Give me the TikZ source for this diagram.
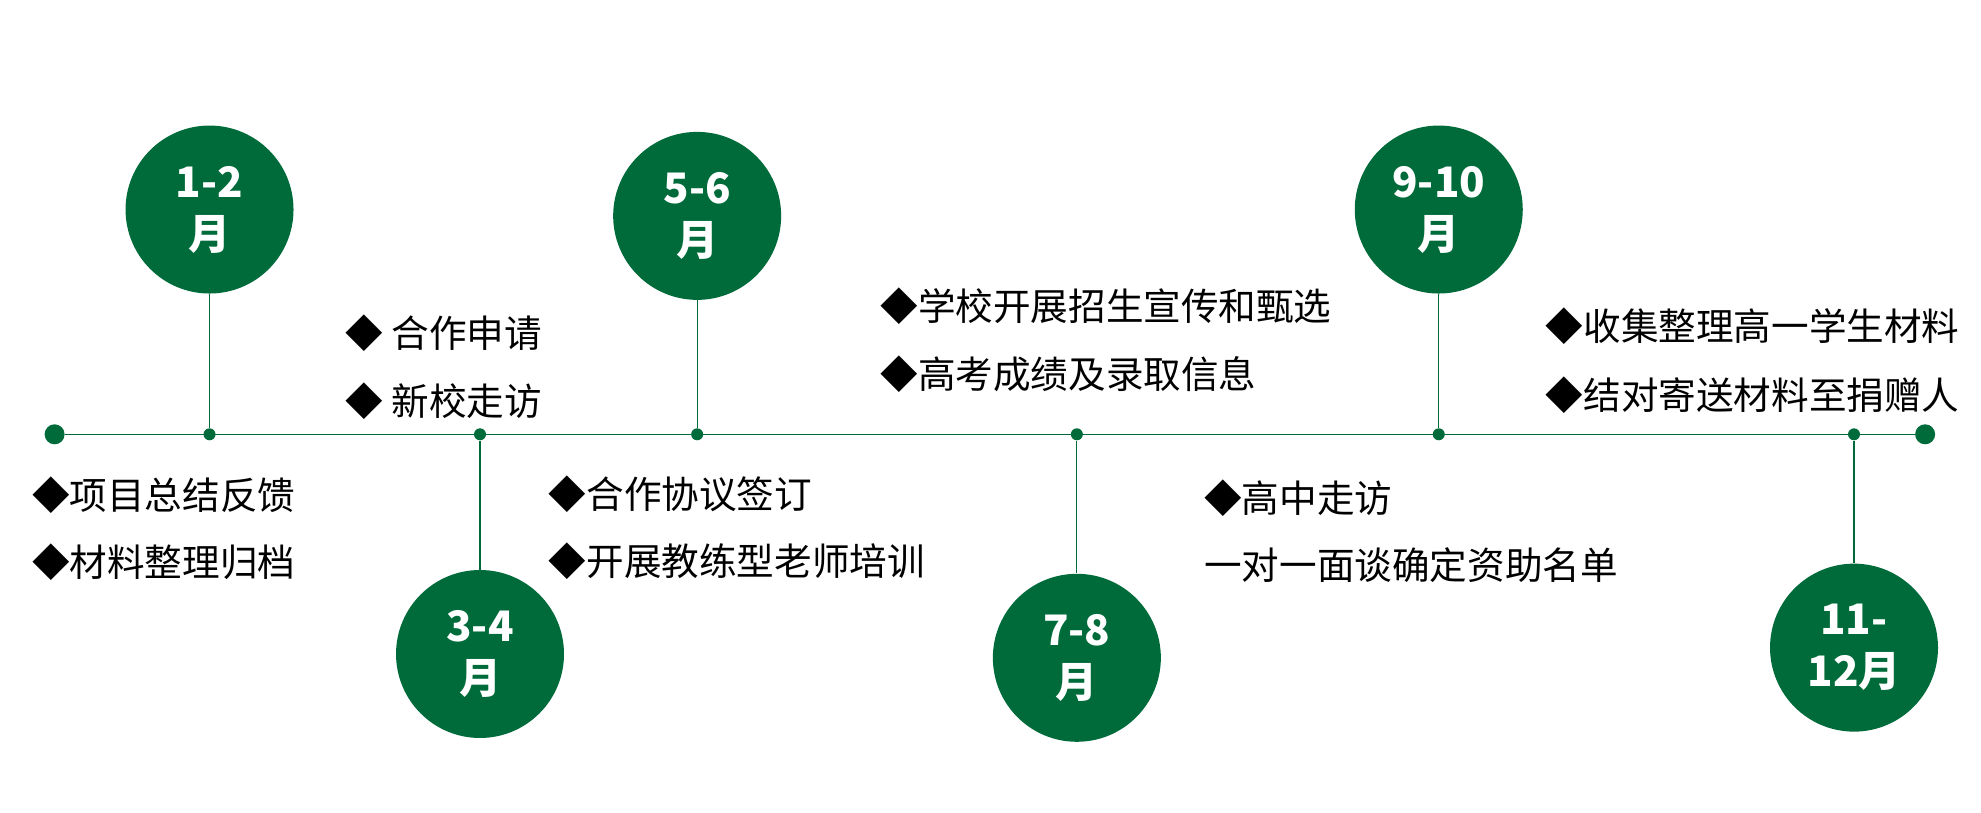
\documentclass[tikz,border=0pt]{standalone}
\usepackage{fontspec}
\setmainfont{Noto Sans CJK SC}
\definecolor{dg}{HTML}{006B3A}
\begin{document}
\begin{tikzpicture}[x=0.635pt,y=-0.635pt,
  mon/.style={circle,fill=dg,minimum size=84pt,inner sep=0pt,text=white,font=\fontsize{21}{26}\selectfont\bfseries,align=center},
  bigdot/.style={circle,fill=dg,minimum size=10pt,inner sep=0pt},
  smalldot/.style={circle,fill=dg,minimum size=6pt,inner sep=0pt},
  ln/.style={draw=dg,line width=0.6pt},
  txt/.style={anchor=west,font=\fontsize{18.8}{22}\selectfont,inner sep=0pt}]
\useasboundingbox (0,0) rectangle (1560,640);
\node[bigdot] (L) at (43,342) {};
\node[bigdot] (R) at (1516,342) {};
\draw[ln] (L) -- (R);
\foreach \n/\x/\y/\t in {a/165/165/1-2\\月,b/378/515/3-4\\月,c/549/170/5-6\\月,d/848/518/7-8\\月,e/1133/165/9-10\\月,f/1460/510/11-\\12月}{
  \node[mon] (\n) at (\x,\y) {\t};
  \node[smalldot] (\n d) at (\x,342) {};
  \draw[ln] (\n) -- (\n d);
}
\node[txt] (t1) at (272,262) {◆ 合作申请};
\node[txt] (t2) at (272,316) {◆ 新校走访};
\node[txt] (t3) at (25,390) {◆项目总结反馈};
\node[txt] (t4) at (25,443) {◆材料整理归档};
\node[txt] (t5) at (432,389) {◆合作协议签订};
\node[txt] (t6) at (432,442) {◆开展教练型老师培训};
\node[txt] (t7) at (693,241) {◆学校开展招生宣传和甄选};
\node[txt] (t8) at (693,295) {◆高考成绩及录取信息};
\node[txt] (t9) at (948,392) {◆高中走访};
\node[txt] (t10) at (948,445) {一对一面谈确定资助名单};
\node[txt] (t11) at (1217,257) {◆收集整理高一学生材料};
\node[txt] (t12) at (1217,311) {◆结对寄送材料至捐赠人};
\end{tikzpicture}
\end{document}
